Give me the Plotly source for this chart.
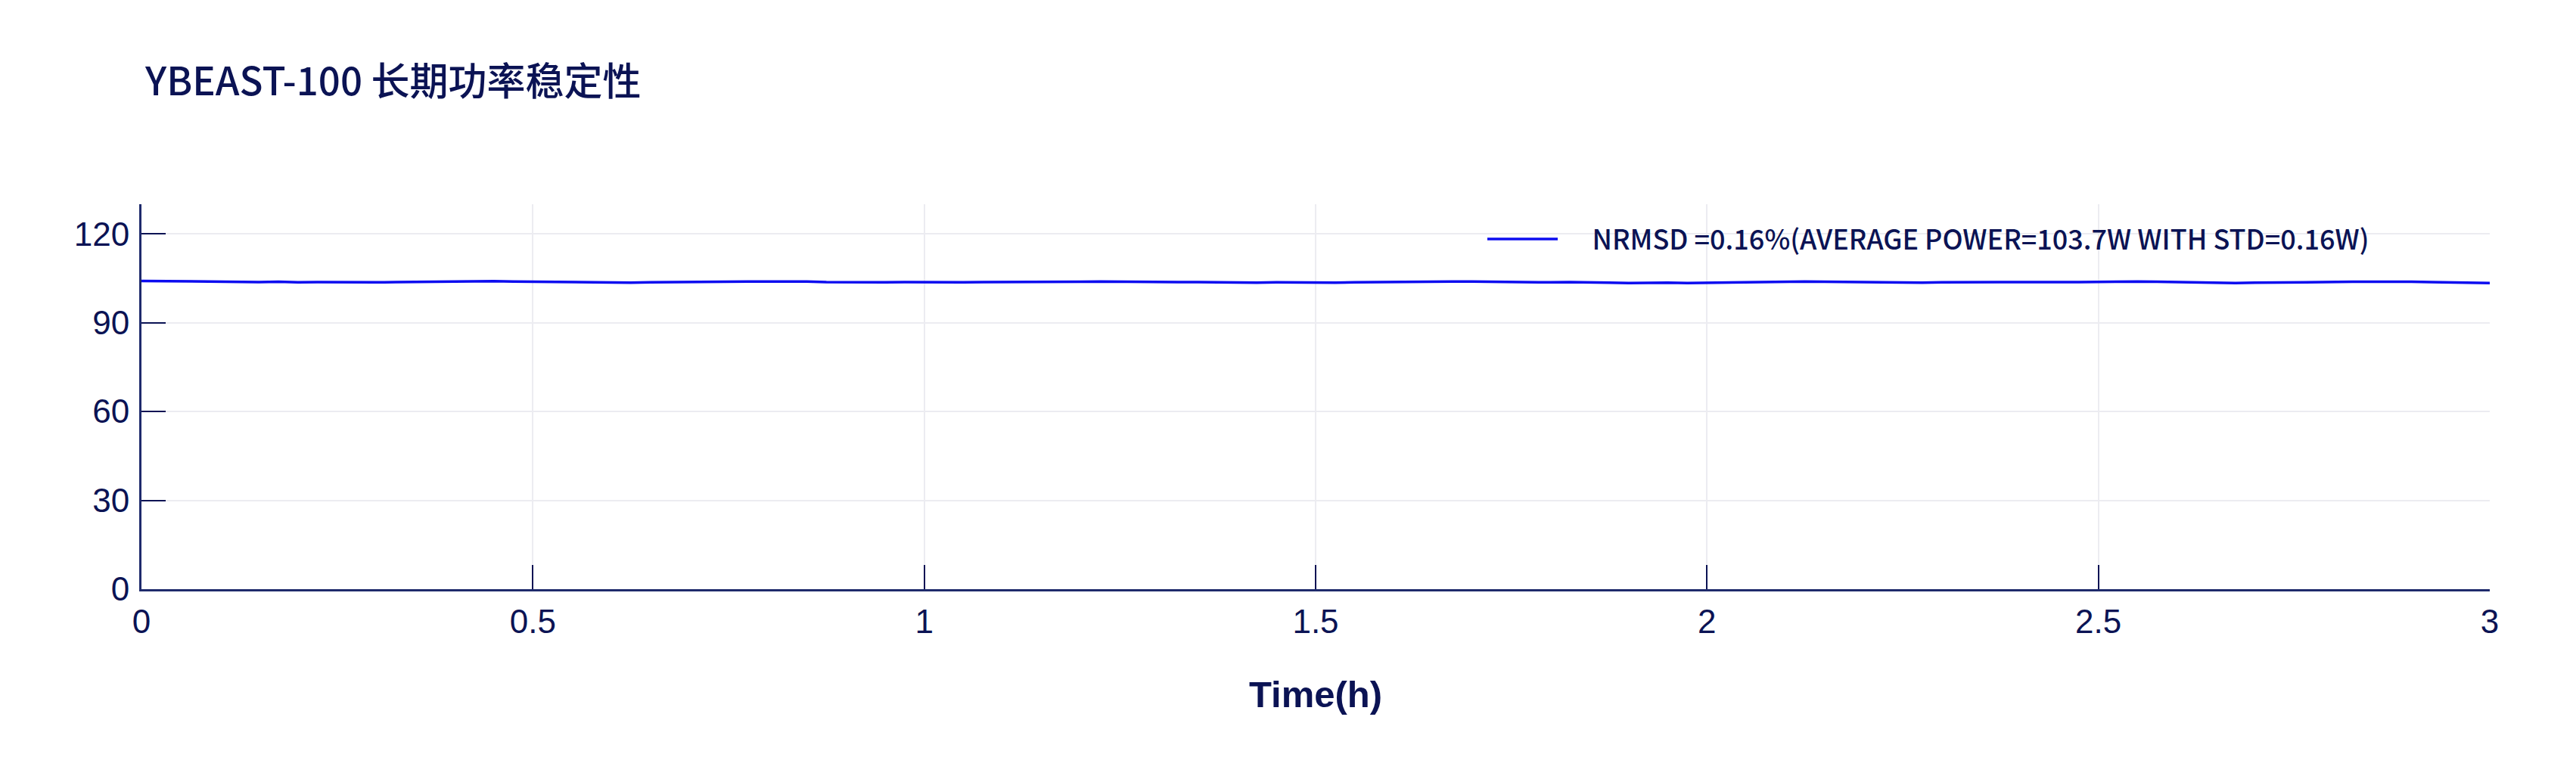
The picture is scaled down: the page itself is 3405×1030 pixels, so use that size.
import plotly.graph_objects as go

# ---- data ----
time_h = [0.000, 0.025, 0.050, 0.075, 0.100, 0.125, 0.150, 0.175, 0.200, 0.225,
          0.250, 0.275, 0.300, 0.325, 0.350, 0.375, 0.400, 0.425, 0.450, 0.475,
          0.500, 0.525, 0.550, 0.575, 0.600, 0.625, 0.650, 0.675, 0.700, 0.725,
          0.750, 0.775, 0.800, 0.825, 0.850, 0.875, 0.900, 0.925, 0.950, 0.975,
          1.000, 1.025, 1.050, 1.075, 1.100, 1.125, 1.150, 1.175, 1.200, 1.225,
          1.250, 1.275, 1.300, 1.325, 1.350, 1.375, 1.400, 1.425, 1.450, 1.475,
          1.500, 1.525, 1.550, 1.575, 1.600, 1.625, 1.650, 1.675, 1.700, 1.725,
          1.750, 1.775, 1.800, 1.825, 1.850, 1.875, 1.900, 1.925, 1.950, 1.975,
          2.000, 2.025, 2.050, 2.075, 2.100, 2.125, 2.150, 2.175, 2.200, 2.225,
          2.250, 2.275, 2.300, 2.325, 2.350, 2.375, 2.400, 2.425, 2.450, 2.475,
          2.500, 2.525, 2.550, 2.575, 2.600, 2.625, 2.650, 2.675, 2.700, 2.725,
          2.750, 2.775, 2.800, 2.825, 2.850, 2.875, 2.900, 2.925, 2.950, 2.975,
          3.000]

power_w = [104.1, 104.0, 103.9, 104.0, 103.9, 103.8, 103.7, 103.8, 103.6, 103.7,
           103.6, 103.7, 103.6, 103.7, 103.8, 103.7, 103.8, 103.9, 104.0, 103.9,
           103.8, 103.7, 103.6, 103.7, 103.6, 103.5, 103.6, 103.7, 103.6, 103.7,
           103.8, 103.9, 103.9, 104.0, 103.9, 103.7, 103.6, 103.5, 103.6, 103.7,
           103.6, 103.7, 103.6, 103.7, 103.7, 103.6, 103.7, 103.8, 103.8, 103.9,
           103.8, 103.9, 103.8, 103.7, 103.7, 103.6, 103.6, 103.5, 103.6, 103.5,
           103.4, 103.5, 103.6, 103.7, 103.7, 103.8, 103.8, 103.9, 103.9, 103.8,
           103.7, 103.7, 103.6, 103.7, 103.5, 103.5, 103.4, 103.5, 103.5, 103.4,
           103.5, 103.6, 103.6, 103.7, 103.8, 103.9, 103.8, 103.7, 103.7, 103.6,
           103.5, 103.5, 103.6, 103.7, 103.6, 103.7, 103.7, 103.6, 103.7, 103.7,
           103.8, 103.8, 103.9, 103.8, 103.7, 103.5, 103.5, 103.4, 103.5, 103.6,
           103.5, 103.6, 103.7, 103.8, 103.8, 103.9, 103.8, 103.7, 103.6, 103.5,
           103.4]

series_name = "NRMSD =0.16%(AVERAGE POWER=103.7W WITH STD=0.16W)"
title_text = "YBEAST-100 长期功率稳定性"
x_title = "Time(h)"
x_ticks = [0, 0.5, 1, 1.5, 2, 2.5, 3]
x_tick_labels = ["0", "0.5", "1", "1.5", "2", "2.5", "3"]
y_ticks = [0, 30, 60, 90, 120]
y_tick_labels = ["0", "30", "60", "90", "120"]

NAVY = "#0b1354"
AXIS = "#1f2b6c"
GRID = "#ececf1"
BLUE = "#0c0cf0"

W, H = 3389, 1014          # page body has an 8px margin
PL, PR, PT, PB = 179, 3283, 262, 771   # plot area in layout pixels

fig = go.Figure()
fig.add_trace(go.Scatter(
    x=time_h, y=power_w, mode="lines",
    name="\u00a0\u00a0\u00a0\u00a0\u00a0" + series_name,
    line=dict(color=BLUE, width=3.5),
))

fig.update_layout(
    width=W, height=H,
    margin=dict(l=PL, r=W - PR, t=PT, b=H - PB, autoexpand=False),
    paper_bgcolor="white", plot_bgcolor="white",
    title=dict(
        text=title_text, xref="container", yref="container",
        x=184 / W, xanchor="left", y=1 - 100 / H, yanchor="middle",
        font=dict(family="Noto Sans CJK SC", size=51, color=NAVY, weight=500),
    ),
    showlegend=True,
    legend=dict(
        x=(1953 - PL) / (PR - PL), xanchor="left",
        y=(PB - 308) / (PB - PT), yanchor="middle",
        bgcolor="rgba(0,0,0,0)", borderwidth=0,
        itemwidth=93,
        font=dict(family="Noto Sans CJK SC", size=36, color=NAVY, weight=500),
    ),
    xaxis=dict(
        range=[0, 3], tickmode="array", tickvals=x_ticks, ticktext=x_tick_labels,
        showgrid=True, gridcolor=GRID, gridwidth=2, zeroline=False,
        showline=True, linecolor=AXIS, linewidth=3,
        ticks="inside", ticklen=32, tickwidth=2, tickcolor=NAVY,
        tickfont=dict(family="Liberation Sans, Arial", size=44, color=NAVY),
        ticklabelstandoff=2,
        title=dict(text=x_title, standoff=56,
                   font=dict(family="Liberation Sans, Arial", size=49, color=NAVY, weight="bold")),
    ),
    yaxis=dict(
        range=[0, 130], tickmode="array", tickvals=y_ticks, ticktext=y_tick_labels,
        showgrid=True, gridcolor=GRID, gridwidth=2, zeroline=False,
        showline=True, linecolor=AXIS, linewidth=3,
        ticks="inside", ticklen=32, tickwidth=2, tickcolor=NAVY,
        tickfont=dict(family="Liberation Sans, Arial", size=44, color=NAVY),
        ticklabelstandoff=4,
    ),
)

fig.write_html("out.html")
